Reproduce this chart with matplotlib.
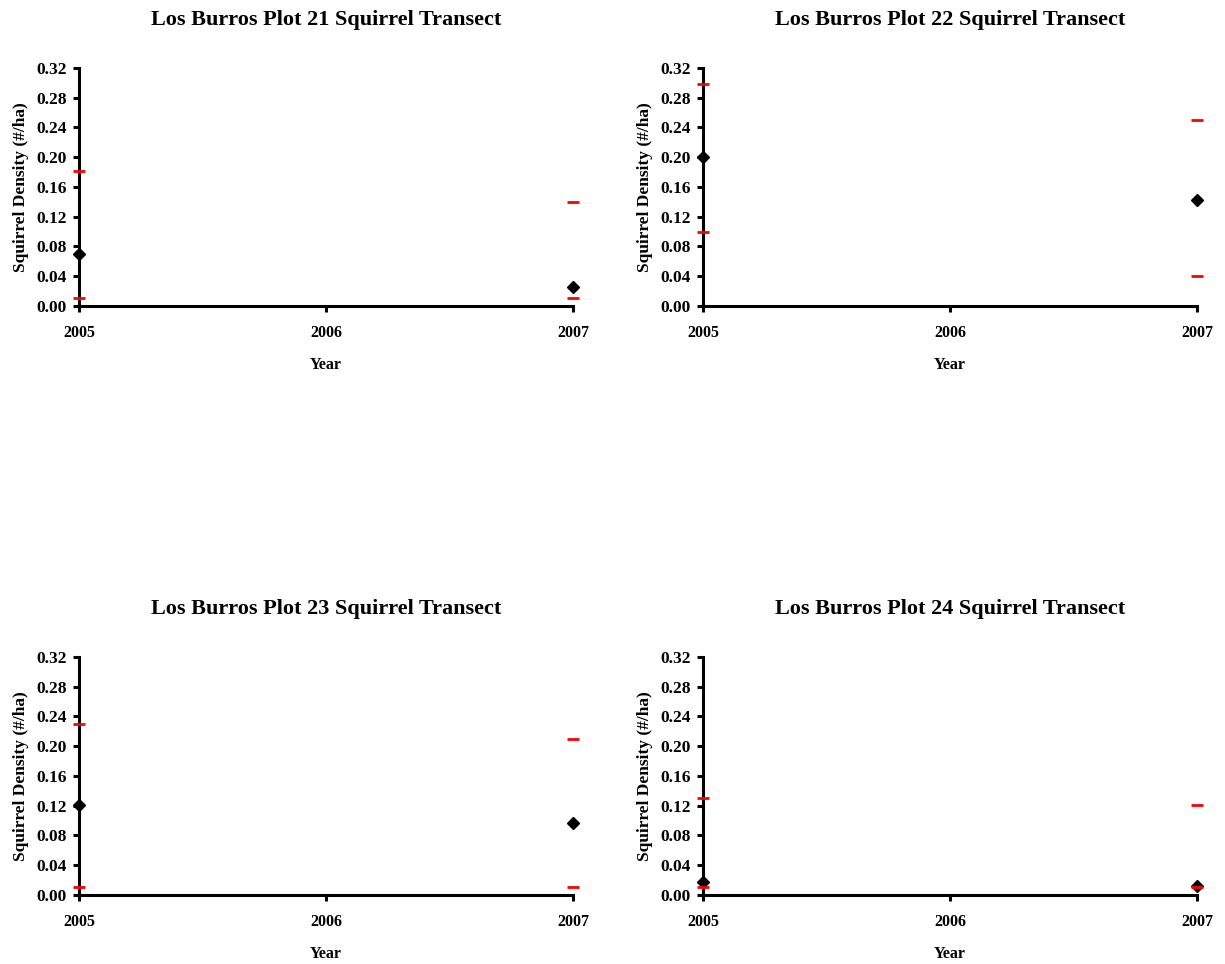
import matplotlib
matplotlib.use("Agg")
import matplotlib.pyplot as plt

plt.rcParams['font.family'] = ['Liberation Serif', 'DejaVu Serif']
plt.rcParams['font.weight'] = 'bold'

years = [2005, 2007]
titles = ["Los Burros Plot 21 Squirrel Transect",
          "Los Burros Plot 22 Squirrel Transect",
          "Los Burros Plot 23 Squirrel Transect",
          "Los Burros Plot 24 Squirrel Transect"]
density = [[0.070, 0.026], [0.200, 0.142], [0.121, 0.097], [0.018, 0.012]]
upper_ci = [[0.181, 0.140], [0.299, 0.250], [0.230, 0.210], [0.130, 0.121]]
lower_ci = [[0.011, 0.011], [0.100, 0.040], [0.011, 0.011], [0.011, 0.011]]
xticks = [2005, 2006, 2007]
yticks = [0.00, 0.04, 0.08, 0.12, 0.16, 0.20, 0.24, 0.28, 0.32]

fig = plt.figure(figsize=(12.25, 9.64), dpi=100)
positions = [
    (0.0645, 0.6826, 0.4033, 0.2469),
    (0.5739, 0.6826, 0.4033, 0.2469),
    (0.0645, 0.0716, 0.4033, 0.2469),
    (0.5739, 0.0716, 0.4033, 0.2469),
]

for i in range(4):
    ax = fig.add_axes(positions[i])
    ax.plot(years, upper_ci[i], linestyle='none', marker='_', color='red',
            markersize=9, markeredgewidth=2, clip_on=False, zorder=4)
    ax.plot(years, lower_ci[i], linestyle='none', marker='_', color='red',
            markersize=9, markeredgewidth=2, clip_on=False, zorder=4)
    ax.plot(years, density[i], linestyle='none', marker='D', color='black',
            markersize=6.5, clip_on=False, zorder=3)
    ax.set_xlim(2005, 2007)
    ax.set_ylim(0, 0.32)
    ax.set_xticks(xticks)
    ax.set_xticklabels([str(x) for x in xticks])
    ax.set_yticks(yticks)
    ax.set_yticklabels([f"{v:.2f}" for v in yticks])
    for s in ['top', 'right']:
        ax.spines[s].set_visible(False)
    for s in ['left', 'bottom']:
        ax.spines[s].set_linewidth(2.2)
        ax.spines[s].set_zorder(2)
    ax.tick_params(axis='x', direction='out', length=4, width=2.2,
                   labelsize=11.5, pad=10)
    ax.tick_params(axis='y', direction='out', length=4, width=2.2,
                   labelsize=12.5, pad=5)
    ax.set_title(titles[i], fontsize=16, fontweight='bold', pad=31)
    ax.set_xlabel("Year", fontsize=11.5, fontweight='bold', labelpad=11)
    ax.set_ylabel("Squirrel Density (#/ha)", fontsize=12.5, fontweight='bold', labelpad=5)

fig.savefig("out.png", dpi=100)
